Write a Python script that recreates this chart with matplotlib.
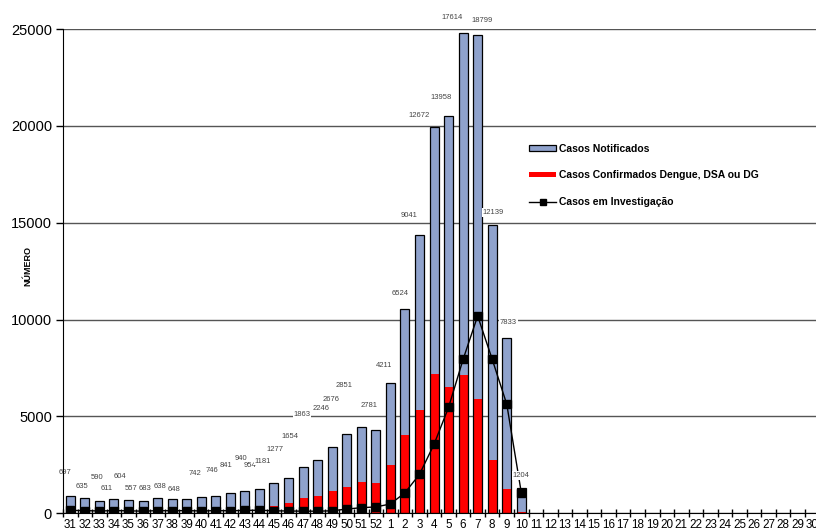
import numpy as np
import matplotlib.pyplot as plt
from matplotlib.patches import Patch
from matplotlib.lines import Line2D

plt.rcParams['font.family'] = ['Liberation Sans', 'DejaVu Sans']

# epidemiological weeks shown on the x axis
weeks = [str(w) for w in range(31, 53)] + [str(w) for w in range(1, 31)]

# series (weeks 31..52, 1..10)
notificados = [880, 780, 660, 730, 670, 620, 780, 730, 730, 830, 880, 1030, 1160, 1260,
               1590, 1810, 2390, 2750, 3410, 4100, 4440, 4290, 6710, 10540, 14360,
               19920, 20490, 24790, 24670, 14860, 9060, 1290]
confirmados = [60, 50, 40, 60, 50, 40, 60, 50, 60, 70, 80, 100, 130, 230,
               400, 515, 775, 910, 1170, 1380, 1600, 1550, 2490, 4030, 5340,
               7190, 6540, 7140, 5900, 2750, 1240, 60]
investigacao = [150, 140, 120, 140, 130, 110, 140, 130, 140, 120, 140, 130, 150, 160,
                130, 120, 110, 110, 130, 220, 290, 330, 480, 1060, 2010,
                3560, 5470, 7950, 10190, 7950, 5630, 1060]

# data labels as they appear on the chart
rotulos = [697, 635, 590, 611, 604, 557, 683, 638, 648, 742, 746, 841, 940, 954,
           1181, 1277, 1654, 1863, 2246, 2676, 2851, 2781, 4211, 6524, 9041,
           12672, 13958, 17614, 18799, 12139, 7833, 1204]
rotulo_x = [-0.39, 0.80, 1.84, 2.47, 3.39, 4.19, 5.15, 6.14, 7.15, 8.59, 9.74, 10.72,
            11.73, 12.32, 13.24, 14.09, 15.12, 15.93, 17.25, 17.94, 18.85, 20.55,
            21.58, 22.68, 23.30, 23.94, 25.48, 26.23, 28.30, 29.09, 30.12, 30.99]
rotulo_y = [2100, 1410, 1840, 1290, 1890, 1290, 1260, 1370, 1240, 2030, 2200, 2460,
            2840, 2490, 2700, 3270, 3960, 5080, 5390, 5850, 6590, 5560, 7610, 11330,
            15360, 20520, 21470, 25620, 25440, 15530, 9870, 1940]

fig = plt.figure(figsize=(8.16, 5.31), dpi=100)
ax = fig.add_axes([0.0772, 0.0333, 0.9272, 0.912])

x = np.arange(len(notificados))
w = 0.62
blue = '#8fa2cc'

ax.bar(x, notificados, width=w, color=blue, edgecolor='none', zorder=2)
ax.bar(x, confirmados, width=w, color='#ff0000', edgecolor='none', zorder=3)
ax.bar(x, notificados, width=w, fill=False, edgecolor='black', linewidth=0.9, zorder=4)
ax.plot(x, investigacao, color='black', linewidth=1, marker='s', markersize=6,
        zorder=5)

for xi, yi, v in zip(rotulo_x, rotulo_y, rotulos):
    ax.text(xi, yi, str(v), fontsize=5.5, color='#444444', ha='center', va='center',
            zorder=6, bbox=dict(facecolor='white', edgecolor='none', pad=0.6))

ax.set_xlim(-0.5, len(weeks) - 0.5)
ax.set_ylim(0, 25000)
ax.set_yticks(range(0, 25001, 5000))
ax.tick_params(axis='y', labelsize=10.5, length=5, width=1, pad=3)
ax.yaxis.grid(True, color='#555555', linewidth=1)
ax.set_axisbelow(True)

ax.set_xticks(range(len(weeks)))
ax.set_xticklabels(weeks, fontsize=8.4)
ax.tick_params(axis='x', length=0, pad=4)
ax.set_xticks(np.arange(-0.5, len(weeks), 1), minor=True)
ax.tick_params(axis='x', which='minor', direction='inout', length=6, width=1)

for s in ['top', 'right']:
    ax.spines[s].set_visible(False)
ax.spines['left'].set_zorder(7)
ax.spines['bottom'].set_zorder(7)

ax.set_ylabel('NÚMERO', fontsize=6.5, fontweight='bold')
ax.yaxis.set_label_coords(-0.04, 0.51)

handles = [Patch(facecolor=blue, edgecolor='black', linewidth=0.9),
           Patch(facecolor='#ff0000', edgecolor='none'),
           Line2D([], [], color='black', linewidth=1, marker='s', markersize=4)]
labels = ['Casos Notificados', 'Casos Confirmados Dengue, DSA ou DG',
          'Casos em Investigação']
ax.legend(handles, labels, loc='upper left', bbox_to_anchor=(0.604, 0.783),
          frameon=False, prop={'size': 7.5, 'weight': 'bold'},
          labelspacing=1.6, handlelength=2.6, handleheight=0.5, handletextpad=0.2)

fig.savefig('out.png', dpi=100)
